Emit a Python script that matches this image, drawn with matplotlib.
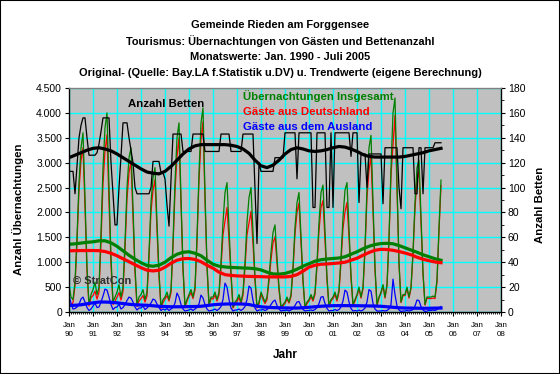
import numpy as np
import matplotlib
matplotlib.use("Agg")
import matplotlib.pyplot as plt
from matplotlib.ticker import MultipleLocator, FuncFormatter
from matplotlib.patches import Rectangle

plt.rcParams['font.family'] = ['Liberation Sans', 'DejaVu Sans']

# ---------------- data (monthly, Jan 1990 - Jul 2005) ----------------
total_stays = [
    550, 300, 250, 600, 1500, 2600, 3300, 3600, 2300, 900, 150, 350,    # 1990
    450, 600, 350, 500, 1600, 2900, 3700, 4000, 2500, 1100, 200, 300,   # 1991
    400, 550, 300, 500, 1400, 2500, 3100, 3300, 2100, 900, 150, 300,    # 1992
    350, 450, 250, 400, 1200, 2200, 2700, 2900, 1800, 800, 100, 250,    # 1993
    300, 400, 250, 450, 1400, 2600, 3500, 3800, 2300, 900, 120, 250,    # 1994
    350, 450, 300, 500, 1500, 2800, 3800, 4100, 2400, 950, 150, 300,    # 1995
    300, 400, 250, 400, 1000, 1800, 2400, 2600, 1700, 800, 100, 200,    # 1996
    250, 350, 200, 400, 1000, 1800, 2300, 2500, 1600, 700, 100, 200,    # 1997
    400, 300, 200, 300, 700, 1200, 1600, 1750, 1100, 500, 100, 150,     # 1998
    200, 300, 200, 350, 900, 1700, 2200, 2400, 1500, 650, 100, 200,     # 1999
    250, 350, 250, 400, 1000, 1800, 2400, 2550, 1600, 700, 120, 250,    # 2000
    300, 400, 250, 450, 1100, 1900, 2450, 2600, 1700, 750, 150, 250,    # 2001
    350, 500, 300, 500, 1300, 2500, 3300, 3550, 2200, 900, 150, 300,    # 2002
    400, 550, 300, 550, 1500, 2900, 4000, 4300, 2600, 1000, 200, 350,   # 2003
    350, 500, 300, 500, 1200, 2200, 2900, 3050, 1900, 800, 150, 300,    # 2004
    300, 300, 320, 300, 650, 1700, 2650,                                # 2005
]

foreign_stays = [
    330, 180, 60, 70, 100, 150, 260, 300, 200, 90, 30, 60,      # 1990
    120, 180, 90, 100, 200, 320, 460, 440, 300, 150, 50, 90,    # 1991
    100, 160, 60, 90, 150, 230, 300, 280, 200, 100, 40, 80,     # 1992
    80, 120, 50, 80, 120, 180, 260, 240, 160, 90, 30, 60,       # 1993
    40, 70, 30, 60, 90, 180, 380, 300, 150, 60, 20, 30,         # 1994
    40, 60, 30, 60, 90, 160, 340, 280, 150, 60, 20, 30,         # 1995
    40, 60, 30, 60, 110, 250, 580, 500, 250, 80, 20, 40,        # 1996
    40, 60, 30, 60, 110, 250, 520, 480, 230, 80, 20, 40,        # 1997
    40, 50, 30, 50, 80, 150, 210, 240, 130, 60, 20, 30,         # 1998
    30, 40, 20, 40, 70, 130, 200, 210, 120, 50, 20, 30,         # 1999
    30, 40, 30, 50, 90, 170, 300, 310, 170, 70, 20, 30,         # 2000
    30, 50, 30, 50, 100, 220, 440, 400, 200, 70, 20, 30,        # 2001
    20, 40, 20, 40, 80, 200, 450, 420, 170, 60, 20, 20,         # 2002
    20, 30, 20, 30, 60, 150, 660, 350, 120, 40, 10, 20,         # 2003
    20, 30, 20, 30, 50, 120, 240, 230, 110, 40, 10, 20,         # 2004
    30, 30, 40, 30, 50, 80, 110,                                # 2005
]

# German guests = total - foreign
german_stays = [t - f for t, f in zip(total_stays, foreign_stays)]

beds = [
    113, 113, 113, 95, 118, 140, 150, 156, 156, 140, 126, 126,   # 1990
    126, 126, 128, 135, 145, 156, 156, 156, 156, 120, 95, 70,    # 1991
    70, 100, 125, 152, 152, 152, 140, 130, 120, 100, 95, 95,     # 1992
    95, 95, 95, 95, 95, 100, 121, 121, 121, 121, 112, 112,       # 1993
    107, 86, 69, 107, 143, 143, 143, 143, 143, 129, 129, 129,    # 1994
    129, 129, 143, 143, 143, 143, 143, 143, 129, 129, 129, 129,  # 1995
    129, 129, 129, 129, 143, 143, 143, 143, 143, 129, 129, 129,  # 1996
    129, 129, 129, 143, 143, 143, 143, 143, 143, 100, 55, 120,   # 1997
    113, 113, 113, 113, 113, 113, 113, 124, 124, 124, 124, 124,  # 1998
    144, 144, 144, 144, 144, 144, 107, 144, 144, 144, 144, 144,  # 1999
    144, 144, 84, 84, 144, 144, 144, 144, 144, 84, 84, 144,      # 2000
    84, 144, 144, 144, 144, 144, 144, 144, 144, 125, 144, 144,   # 2001
    144, 88, 127, 127, 127, 100, 127, 127, 127, 127, 127, 127,   # 2002
    127, 87, 132, 132, 132, 132, 132, 132, 132, 100, 83, 132,    # 2003
    132, 132, 132, 132, 132, 95, 95, 132, 132, 95, 132, 132,     # 2004
    132, 132, 132, 136, 136, 136, 136,                           # 2005
]

# ---------------- trend values (read quarterly: Jan, Apr, Jul, Oct) ----------------
trend_total = [
    1360, 1370, 1385, 1400,  1410, 1430, 1430, 1390,  1320, 1230, 1140, 1060,
    990, 935, 920, 940,      1000, 1090, 1160, 1200,  1210, 1180, 1130, 1040,
    960, 920, 905, 895,      890, 885, 880, 870,      845, 800, 765, 760,
    775, 810, 860, 920,      970, 1020, 1050, 1065,   1075, 1085, 1110, 1160,
    1210, 1270, 1320, 1355,  1375, 1380, 1370, 1335,  1290, 1245, 1200, 1150,
    1110, 1070, 1040,
]
trend_german = [
    1230, 1232, 1234, 1235,  1235, 1232, 1215, 1180,  1130, 1070, 1010, 950,
    890, 840, 825, 840,      900, 980, 1040, 1070,    1075, 1055, 1010, 940,
    880, 800, 750, 735,      725, 720, 715, 712,      710, 705, 705, 705,
    705, 715, 750, 820,      900, 940, 960, 965,      975, 985, 1000, 1040,
    1080, 1140, 1195, 1240,  1260, 1255, 1240, 1215,  1185, 1150, 1100, 1060,
    1030, 1005, 990,
]
trend_foreign = [
    130, 135, 145, 165,  185, 200, 200, 195,  185, 170, 155, 145,
    140, 135, 125, 115,  110, 105, 105, 105,  108, 110, 115, 130,
    145, 155, 160, 162,  162, 160, 150, 125,  105, 95, 88, 85,
    82, 80, 80, 85,      95, 105, 115, 122,   127, 128, 128, 127,
    126, 124, 122, 120,  115, 105, 95, 85,    80, 78, 76, 75,
    75, 78, 80,
]
trend_beds = [
    124, 126, 128, 130,        131.5, 132, 131, 129.5,    127, 124, 121, 118,
    115, 112.5, 111.5, 111,    113, 117, 122, 127,        131, 133.5, 134.5, 134.5,
    134.5, 134.5, 134.5, 134,  133, 131, 127.5, 122,      117.5, 116, 118, 122,
    127, 130.5, 132, 131,      129.5, 129, 129.5, 130.5,  132, 133, 132.5, 131,
    129, 126.5, 125, 124.5,    124.5, 124.5, 124.5, 124.5, 125, 126, 127, 128,
    129.5, 130.5, 131.5,
]

year_labels = ['90', '91', '92', '93', '94', '95', '96', '97', '98', '99',
               '00', '01', '02', '03', '04', '05', '06', '07', '08']

title_lines = [
    "Gemeinde Rieden am Forggensee",
    "Tourismus: Übernachtungen von Gästen und Bettenanzahl",
    "Monatswerte: Jan. 1990 - Juli 2005",
    "Original- (Quelle: Bay.LA f.Statistik u.DV) u. Trendwerte (eigene Berechnung)",
]

# ---------------- figure ----------------
W, H = 560, 374
fig = plt.figure(figsize=(W / 100, H / 100), dpi=100)
fig.patch.set_facecolor('white')

def fx(px):
    return px / W

def fy(py):
    return 1 - py / H

left, right, top, bottom = 69, 501, 88, 312
ax = fig.add_axes([fx(left), fy(bottom), (right - left) / W, (bottom - top) / H])
ax.set_facecolor('#C0C0C0')

x_month = 1990 + np.arange(len(total_stays)) / 12.0
x_trend = 1990 + np.arange(0, 3 * len(trend_total), 3) / 12.0

ax.plot(x_month, german_stays, color='#FF0000', lw=0.9, zorder=3)
ax.plot(x_month, total_stays, color='#008000', lw=0.9, zorder=4)
ax.plot(x_month, foreign_stays, color='#0000FF', lw=0.9, zorder=5)
ax.plot(x_trend, trend_total, color='#008000', lw=2.3, zorder=6)
ax.plot(x_trend, trend_german, color='#FF0000', lw=2.3, zorder=6)
ax.plot(x_trend, trend_foreign, color='#0000FF', lw=2.3, zorder=6)

ax.set_xlim(1990, 2008)
ax.set_ylim(0, 4500)
ax.yaxis.set_major_locator(MultipleLocator(500))
ax.yaxis.set_major_formatter(FuncFormatter(lambda v, p: f"{v:,.0f}".replace(',', '.')))
ax.set_xticks(np.arange(1990, 2009))
ax.set_xticklabels([f"Jan\n{y}" for y in year_labels], fontsize=5.8, linespacing=1.4)
ax.xaxis.set_minor_locator(MultipleLocator(1 / 12))
ax.grid(True, which='major', color='#00FFFF', lw=1.0)
ax.set_axisbelow(True)
ax.tick_params(axis='y', labelsize=7.5, direction='out', length=3, width=0.8, pad=2)
ax.tick_params(axis='x', which='major', direction='out', length=3, width=0.8, pad=4.5)
ax.tick_params(axis='x', which='minor', direction='out', length=1.5, width=0.6)
for s in ['left', 'bottom']:
    ax.spines[s].set_color('black')
    ax.spines[s].set_linewidth(0.9)
ax.spines['top'].set_color('#808080')
ax.spines['top'].set_linewidth(0.9)

ax2 = ax.twinx()
ax2.plot(x_month, beds, color='black', lw=0.9, zorder=3)
ax2.plot(x_trend, trend_beds, color='black', lw=2.3, zorder=4)
ax2.set_ylim(0, 180)
ax2.yaxis.set_major_locator(MultipleLocator(20))
ax2.yaxis.set_minor_locator(MultipleLocator(10))
ax2.tick_params(axis='y', which='major', labelsize=7.5, direction='out', length=3, width=0.8, pad=2)
ax2.tick_params(axis='y', which='minor', direction='out', length=2, width=0.6)
ax2.spines['right'].set_color('black')
ax2.spines['right'].set_linewidth(0.9)
ax2.spines['top'].set_color('#808080')

# titles
for i, line in enumerate(title_lines):
    fig.text(fx(280), fy(25 + 16 * i), line, ha='center', va='center',
             fontsize=7.9, fontweight='bold')

# axis labels
fig.text(fx(18), fy(209), "Anzahl Übernachtungen", rotation=90, ha='center',
         va='center', fontsize=8.2, fontweight='bold')
fig.text(fx(540), fy(205), "Anzahl Betten", rotation=90, ha='center',
         va='center', fontsize=8.2, fontweight='bold')
fig.text(fx(285), fy(355), "Jahr", ha='center', va='center', fontsize=8.5,
         fontweight='bold')

# in-plot labels
fig.text(fx(128), fy(104), "Anzahl Betten", ha='left', va='center',
         fontsize=8.2, fontweight='bold', color='black')
fig.text(fx(243), fy(96), "Übernachtungen Insgesamt", ha='left', va='center',
         fontsize=8.2, fontweight='bold', color='#008000')
fig.text(fx(243), fy(112), "Gäste aus Deutschland", ha='left', va='center',
         fontsize=8.2, fontweight='bold', color='#FF0000')
fig.text(fx(243), fy(127), "Gäste aus dem Ausland", ha='left', va='center',
         fontsize=8.2, fontweight='bold', color='#0000FF')
fig.text(fx(73), fy(281), "© StratCon", ha='left', va='center',
         fontsize=8, fontweight='bold', color='#303030')

fig.patches.append(Rectangle((0, 0), 1, 1, transform=fig.transFigure,
                             fill=False, ec='black', lw=1.5))

fig.savefig("out.png", dpi=100)
